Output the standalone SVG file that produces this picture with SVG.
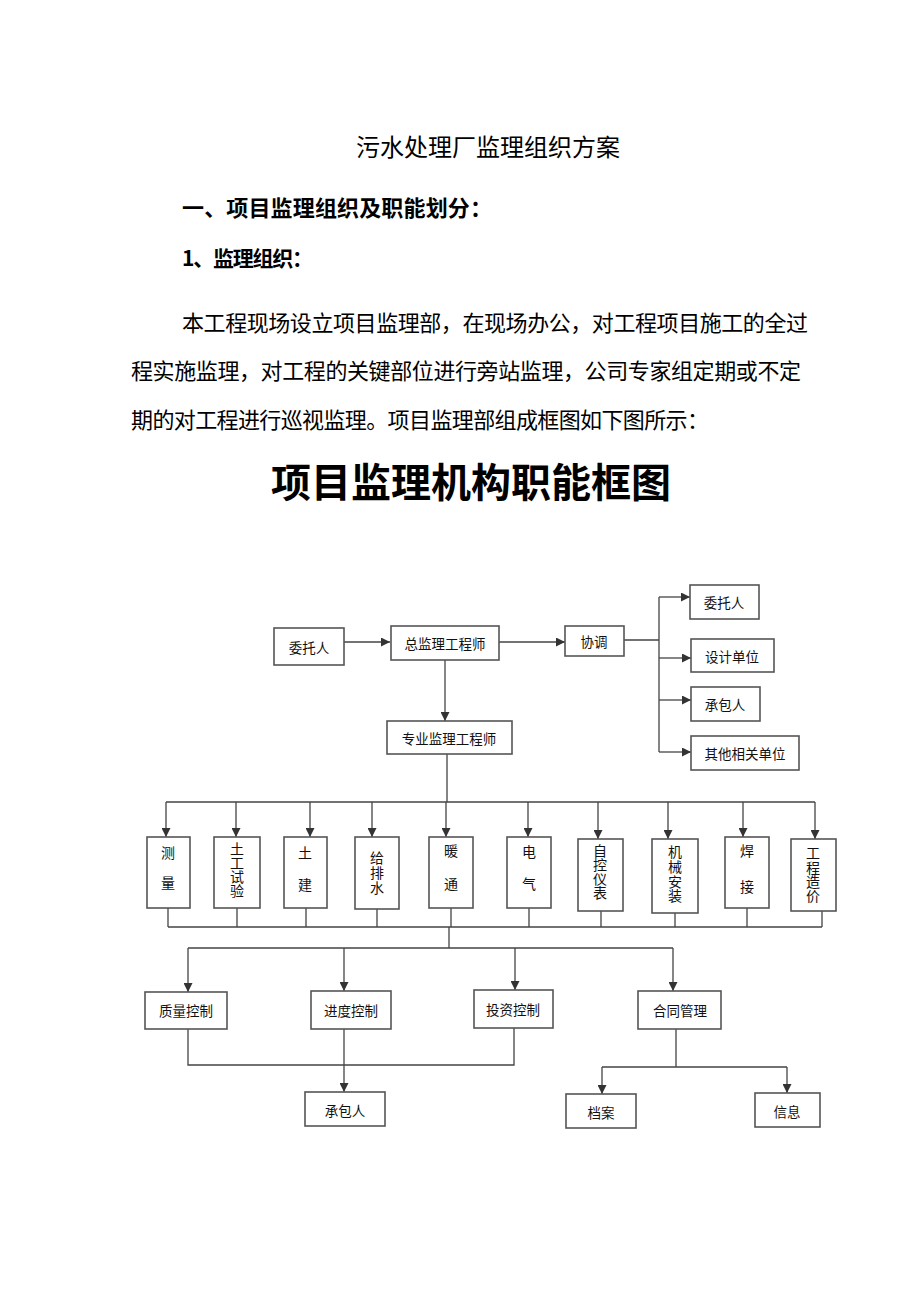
<svg xmlns="http://www.w3.org/2000/svg" width="920" height="1302" viewBox="0 0 920 1302">
<style>
.doc{font-family:"Noto Sans CJK SC","Noto Sans CJK JP",sans-serif;fill:#000}
.box{fill:#fff;stroke:#555;stroke-width:1.6}
.lbl{font-family:"Noto Sans CJK SC","Noto Sans CJK JP",sans-serif;font-size:13.5px;fill:#111;text-anchor:middle;dominant-baseline:central}
.vl{font-family:"Noto Sans CJK SC","Noto Sans CJK JP",sans-serif;font-size:14px;fill:#111;text-anchor:start;dominant-baseline:central;writing-mode:vertical-rl;text-orientation:upright}
.ln{fill:none;stroke:#444;stroke-width:1.3}
.ar{fill:none;stroke:#444;stroke-width:1.3;marker-end:url(#ah)}
</style>
<defs>
<marker id="ah" viewBox="0 0 10 10" refX="10" refY="5" markerWidth="9" markerHeight="9" markerUnits="userSpaceOnUse" orient="auto">
<path d="M0,0 L10,5 L0,10 z" fill="#333"/>
</marker>
</defs>
<rect width="920" height="1302" fill="#fff"/>
<g id="header">
<text class="doc" x="488" y="156" font-size="24" text-anchor="middle">污水处理厂监理组织方案</text>
<text class="doc" x="182" y="216" font-size="22" font-weight="bold" textLength="310" lengthAdjust="spacing">一、项目监理组织及职能划分：</text>
<text class="doc" x="182" y="266" font-size="21" font-weight="bold" textLength="131" lengthAdjust="spacing">1、监理组织：</text>
<text class="doc" x="182" y="331" font-size="22" textLength="626" lengthAdjust="spacing">本工程现场设立项目监理部，在现场办公，对工程项目施工的全过</text>
<text class="doc" x="131" y="379" font-size="22" textLength="670" lengthAdjust="spacing">程实施监理，对工程的关键部位进行旁站监理，公司专家组定期或不定</text>
<text class="doc" x="131" y="428" font-size="22" textLength="578" lengthAdjust="spacing">期的对工程进行巡视监理。项目监理部组成框图如下图所示：</text>
<text class="doc" x="471" y="497" font-size="40" font-weight="bold" text-anchor="middle">项目监理机构职能框图</text>
</g>
<g id="connectors">
<path class="ar" d="M344,642 H390"/>
<path class="ar" d="M499,642 H565"/>
<path class="ln" d="M624,640 H659 M659,597 V752"/>
<path class="ar" d="M659,597 H690"/>
<path class="ar" d="M659,658 H691"/>
<path class="ar" d="M659,700 H691"/>
<path class="ar" d="M659,752 H691"/>
<path class="ar" d="M445,660 V721"/>
<path class="ln" d="M447,754 V802 M166,802 H815"/>
<path class="ar" d="M166,802 V837"/>
<path class="ar" d="M236,802 V837"/>
<path class="ar" d="M310,802 V837"/>
<path class="ar" d="M372,802 V837"/>
<path class="ar" d="M446,802 V837"/>
<path class="ar" d="M528,802 V837"/>
<path class="ar" d="M598,802 V839"/>
<path class="ar" d="M668,802 V839"/>
<path class="ar" d="M743,802 V837"/>
<path class="ar" d="M815,802 V839"/>
<path class="ln" d="M168,908 V927 M237,908 V927 M306,908 V927 M377,909 V927 M451,908 V927 M529,908 V927 M601,911 V927 M675,913 V927 M747,908 V927 M822,911 V927 M168,927 H822"/>
<path class="ln" d="M449,927 V948 M188,948 H673"/>
<path class="ar" d="M188,948 V992"/>
<path class="ar" d="M344,948 V991"/>
<path class="ar" d="M515,948 V990"/>
<path class="ar" d="M673,948 V991"/>
<path class="ln" d="M188,1029 V1065 H514 V1028"/>
<path class="ar" d="M344,1029 V1092"/>
<path class="ln" d="M676,1029 V1067 M602,1067 H787"/>
<path class="ar" d="M602,1067 V1094"/>
<path class="ar" d="M787,1067 V1093"/>
</g>
<g id="n-weituoren"><rect class="box" x="274" y="628" width="70" height="37"/><text class="lbl" x="309" y="647">委托人</text></g>
<g id="n-zongjian"><rect class="box" x="391" y="626" width="108" height="34"/><text class="lbl" x="445" y="643">总监理工程师</text></g>
<g id="n-xietiao"><rect class="box" x="565" y="626" width="59" height="30"/><text class="lbl" x="594" y="641">协调</text></g>
<g id="n-weituoren2"><rect class="box" x="690" y="585" width="69" height="34"/><text class="lbl" x="724" y="602">委托人</text></g>
<g id="n-sheji"><rect class="box" x="691" y="639" width="83" height="33"/><text class="lbl" x="732" y="656">设计单位</text></g>
<g id="n-chengbao1"><rect class="box" x="691" y="687" width="69" height="34"/><text class="lbl" x="725" y="704">承包人</text></g>
<g id="n-qita"><rect class="box" x="691" y="736" width="108" height="34"/><text class="lbl" x="745" y="753">其他相关单位</text></g>
<g id="n-zhuanye"><rect class="box" x="387" y="721" width="125" height="33"/><text class="lbl" x="449" y="738">专业监理工程师</text></g>
<g id="n-celiang"><rect class="box" x="147" y="837" width="43" height="71"/><text class="vl" x="168" y="846" letter-spacing="16">测量</text></g>
<g id="n-tugong"><rect class="box" x="214" y="837" width="46" height="71"/><text class="vl" x="237" y="842">土工试验</text></g>
<g id="n-tujian"><rect class="box" x="284" y="837" width="43" height="71"/><text class="vl" x="305" y="846" letter-spacing="18">土建</text></g>
<g id="n-geipai"><rect class="box" x="355" y="837" width="44" height="72"/><text class="vl" x="377" y="851" letter-spacing="1">给排水</text></g>
<g id="n-nuantong"><rect class="box" x="429" y="837" width="44" height="71"/><text class="vl" x="451" y="844" letter-spacing="19">暖通</text></g>
<g id="n-dianqi"><rect class="box" x="507" y="837" width="44" height="71"/><text class="vl" x="529" y="845" letter-spacing="18">电气</text></g>
<g id="n-zikong"><rect class="box" x="578" y="839" width="45" height="72"/><text class="vl" x="600" y="844">自控仪表</text></g>
<g id="n-jixie"><rect class="box" x="652" y="839" width="46" height="74"/><text class="vl" x="675" y="845" letter-spacing="0.7">机械安装</text></g>
<g id="n-hanjie"><rect class="box" x="725" y="837" width="44" height="71"/><text class="vl" x="747" y="844" letter-spacing="22">焊接</text></g>
<g id="n-zaojia"><rect class="box" x="791" y="839" width="45" height="72"/><text class="vl" x="813" y="846" letter-spacing="0.3">工程造价</text></g>
<g id="n-zhiliang"><rect class="box" x="145" y="992" width="82" height="37"/><text class="lbl" x="186" y="1010">质量控制</text></g>
<g id="n-jindu"><rect class="box" x="311" y="991" width="80" height="38"/><text class="lbl" x="351" y="1010">进度控制</text></g>
<g id="n-touzi"><rect class="box" x="474" y="990" width="79" height="38"/><text class="lbl" x="513" y="1009">投资控制</text></g>
<g id="n-hetong"><rect class="box" x="638" y="991" width="83" height="38"/><text class="lbl" x="680" y="1010">合同管理</text></g>
<g id="n-chengbao2"><rect class="box" x="305" y="1092" width="80" height="34"/><text class="lbl" x="345" y="1110">承包人</text></g>
<g id="n-dangan"><rect class="box" x="566" y="1094" width="70" height="34"/><text class="lbl" x="601" y="1112">档案</text></g>
<g id="n-xinxi"><rect class="box" x="755" y="1093" width="65" height="34"/><text class="lbl" x="787" y="1111">信息</text></g>
</svg>
